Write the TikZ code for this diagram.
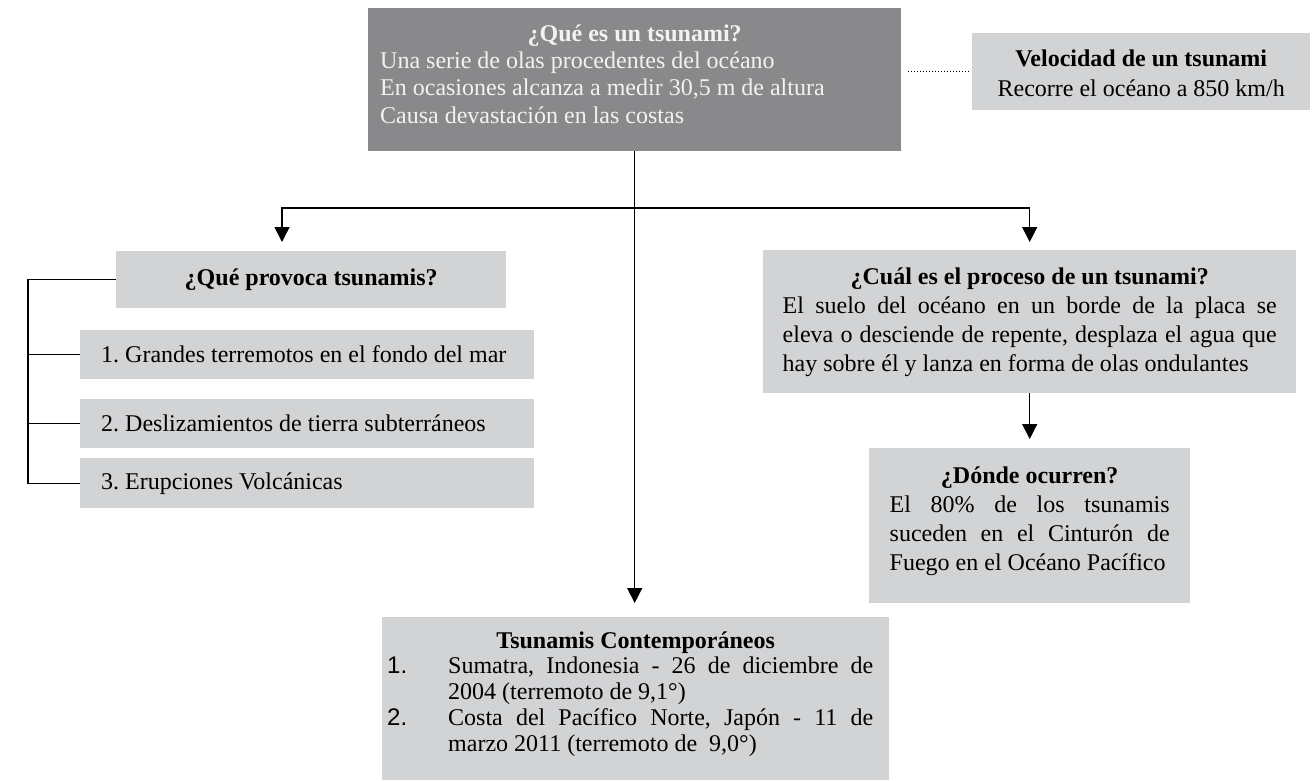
\documentclass[tikz,border=0pt]{standalone}
\usepackage{fontspec}
\setmainfont{Liberation Serif}
\newfontfamily\arialf{Liberation Sans}
\usetikzlibrary{arrows.meta,calc}
\definecolor{darkbox}{HTML}{89898B}
\definecolor{lightbox}{HTML}{D2D3D5}
\definecolor{darktext}{HTML}{F2F2F2}
\frenchspacing
\newcommand\myjust[2]{\makebox[#1][s]{\spaceskip=0pt\xspaceskip=0pt\relax #2}}
\newcommand\myleft[2]{\makebox[#1][l]{\spaceskip=0pt\xspaceskip=0pt\relax #2}}
\newcommand\mycent[2]{\makebox[#1][c]{\spaceskip=0pt\xspaceskip=0pt\relax #2}}
\begin{document}
\begin{tikzpicture}[x=1pt,y=-1pt,
  every node/.style={font=\fontsize{24}{28}\selectfont},
  lbox/.style={fill=lightbox, text=black, inner ysep=0pt, anchor=north west},
  dbox/.style={fill=darkbox, text=darktext, inner ysep=0pt, anchor=north west},
  itembox/.style={lbox, minimum width=454pt, inner xsep=0pt},
  conn/.style={line width=1.4pt, black},
  tip/.style={-{Triangle[length=15pt,width=15pt]}},
  arr/.style={conn, tip, shorten >=9pt},
]
\useasboundingbox (0,0) rectangle (1316,780);

\node[dbox, minimum width=533pt, text width=509pt, inner xsep=12pt, align=left,
      text height=33pt, text depth=110pt, font=\fontsize{24}{27.3}\selectfont] (q) at (368,8)
  {\mycent{509pt}{\textbf{¿Qué es un tsunami?}}\\
   \myleft{509pt}{Una serie de olas procedentes del océano}\\
   \myleft{509pt}{En ocasiones alcanza a medir 30,5 m de altura}\\
   \myleft{509pt}{Causa devastación en las costas}};

\node[lbox, minimum width=338pt, text width=338pt, inner xsep=0pt, align=left,
      text height=33pt, text depth=44pt, font=\fontsize{24}{30}\selectfont] (v) at (972,33)
  {\mycent{338pt}{\textbf{Velocidad de un tsunami}}\\
   \mycent{338pt}{Recorre el océano a 850 km/h}};

\node[lbox, minimum width=390pt, minimum height=57pt, inner xsep=0pt] (p) at (116,251)
  {\textbf{¿Qué provoca tsunamis?}};

\node[itembox, minimum height=49pt] (i1) at (80,330)
  {\makebox[412pt][l]{1. Grandes terremotos en el fondo del mar}};
\node[itembox, minimum height=49pt] (i2) at (80,399)
  {\makebox[412pt][l]{2. Deslizamientos de tierra subterráneos}};
\node[itembox, minimum height=50pt] (i3) at (80,458)
  {\makebox[412pt][l]{3. Erupciones Volcánicas}};

\node[lbox, minimum width=533pt, text width=494pt, inner xsep=19.5pt, align=left,
      text height=34pt, text depth=109pt, font=\fontsize{24}{29}\selectfont] (r) at (763,250)
  {\mycent{494pt}{\textbf{¿Cuál es el proceso de un tsunami?}}\\
   \myjust{494pt}{El suelo del océano en un borde de la placa se}\\
   \myjust{494pt}{eleva o desciende de repente, desplaza el agua que}\\
   \myleft{494pt}{hay sobre él y lanza en forma de olas ondulantes}};

\node[lbox, minimum width=321pt, text width=280pt, inner xsep=20.5pt, align=left,
      text height=35pt, text depth=120pt, font=\fontsize{24}{29}\selectfont] (d) at (869,448)
  {\mycent{280pt}{\textbf{¿Dónde ocurren?}}\\
   \myjust{280pt}{El 80\% de los tsunamis}\\
   \myjust{280pt}{suceden en el Cinturón de}\\
   \myleft{280pt}{Fuego en el Océano Pacífico}};

\node[lbox, minimum width=507pt, text width=497pt, inner xsep=5pt, align=left,
      text height=31pt, text depth=132pt, font=\fontsize{24}{25.75}\selectfont] (c) at (382,617)
  {\mycent{497pt}{\textbf{Tsunamis Contemporáneos}}\\
   \makebox[61pt][l]{\arialf 1.}\myjust{425pt}{Sumatra, Indonesia - 26 de diciembre de}\\
   \hspace*{61pt}\myleft{425pt}{2004 (terremoto de 9,1°)}\\
   \makebox[61pt][l]{\arialf 2.}\myjust{425pt}{Costa del Pacífico Norte, Japón - 11 de}\\
   \hspace*{61pt}\myleft{425pt}{marzo 2011 (terremoto de\ \ 9,0°)}};

% connectors
\draw[line width=1pt, dash pattern=on 1pt off 2pt] ($(q.east |- v.west)+(7,0)$) -- ([xshift=-3pt]v.west);
\draw[conn, tip, shorten >=14pt] (q.south) -- (q.south |- c.north);
\coordinate (lj) at (282,208);
\coordinate (rj) at (r.north |- lj);
\draw[conn, {Triangle[length=15pt,width=15pt]}-{Triangle[length=15pt,width=15pt]}, shorten <=9pt, shorten >=8pt]
  (lj |- p.north) -- (lj) -- (rj) -- (r.north);
\draw[arr] (r.south) -- (d.north);
\coordinate (br) at (28,0);
\draw[conn] (p.west) -| (i3.west -| br) -- (i3.west);
\draw[conn] (i1.west) -- (i1.west -| br);
\draw[conn] (i2.west) -- (i2.west -| br);
\end{tikzpicture}
\end{document}
